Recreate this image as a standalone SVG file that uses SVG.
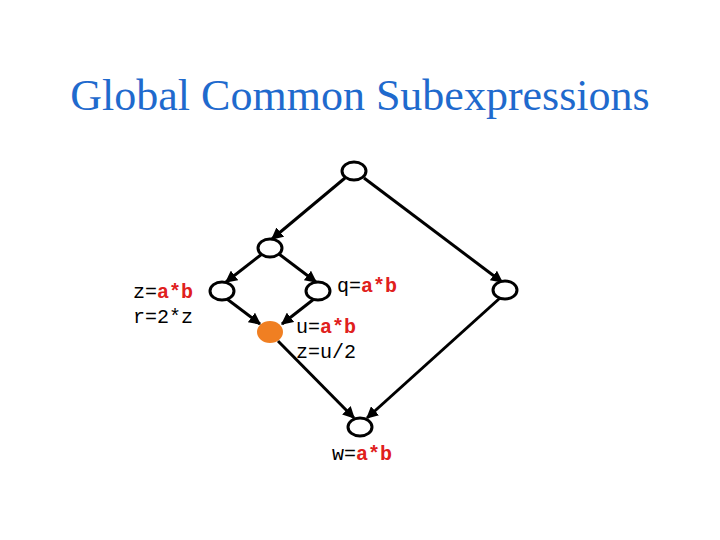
<svg xmlns="http://www.w3.org/2000/svg" width="720" height="540" viewBox="0 0 720 540">
<style>
.node{fill:#fff;stroke:#000;stroke-width:3}
.edge{stroke:#000;stroke-width:3;fill:none;marker-end:url(#ah)}
.code{font-family:"Liberation Mono","Courier New",monospace;font-size:20px;fill:#000}
.r{fill:#e0201c;font-weight:bold}
.title{font-family:"Times New Roman","Liberation Serif",Times,"DejaVu Serif",serif;font-size:44px;fill:#1f6acd}
</style>
<defs>
<marker id="ah" viewBox="0 0 10 10" refX="9" refY="5" markerWidth="4" markerHeight="4" orient="auto" markerUnits="strokeWidth">
<path d="M0,0 L10,5 L0,10 z" fill="#000"/>
</marker>
</defs>
<rect width="720" height="540" fill="#fff"/>
<text class="title" x="360" y="110" text-anchor="middle">Global Common Subexpressions</text>
<g id="connectors">
<line class="edge" x1="345" y1="178" x2="272" y2="239"/>
<line class="edge" x1="364" y1="178" x2="502" y2="282"/>
<line class="edge" x1="262" y1="254" x2="226" y2="282"/>
<line class="edge" x1="279" y1="254" x2="316" y2="282"/>
<line class="edge" x1="227" y1="299" x2="260" y2="324"/>
<line class="edge" x1="314" y1="299" x2="282" y2="324"/>
<line class="edge" x1="278" y1="341" x2="354" y2="418"/>
<line class="edge" x1="500" y1="298" x2="367" y2="418"/>
</g>
<g id="n-top"><ellipse class="node" cx="354" cy="171" rx="12" ry="9"/></g>
<g id="n-mid"><ellipse class="node" cx="270" cy="248" rx="12" ry="9"/></g>
<g id="n-left"><ellipse class="node" cx="222" cy="291" rx="12" ry="9"/>
<text class="code" x="133" y="298">z=<tspan class="r">a*b</tspan></text>
<text class="code" x="133" y="323">r=2*z</text></g>
<g id="n-q"><ellipse class="node" cx="318" cy="291" rx="12" ry="9"/>
<text class="code" x="337" y="292">q=<tspan class="r">a*b</tspan></text></g>
<g id="n-right"><ellipse class="node" cx="505" cy="290" rx="12" ry="9"/></g>
<g id="n-orange"><ellipse cx="270" cy="332" rx="13" ry="11" fill="#f07f22"/>
<text class="code" x="296" y="333">u=<tspan class="r">a*b</tspan></text>
<text class="code" x="296" y="358">z=u/2</text></g>
<g id="n-bottom"><ellipse class="node" cx="360" cy="427" rx="12" ry="9"/>
<text class="code" x="332" y="460">w=<tspan class="r">a*b</tspan></text></g>
</svg>
